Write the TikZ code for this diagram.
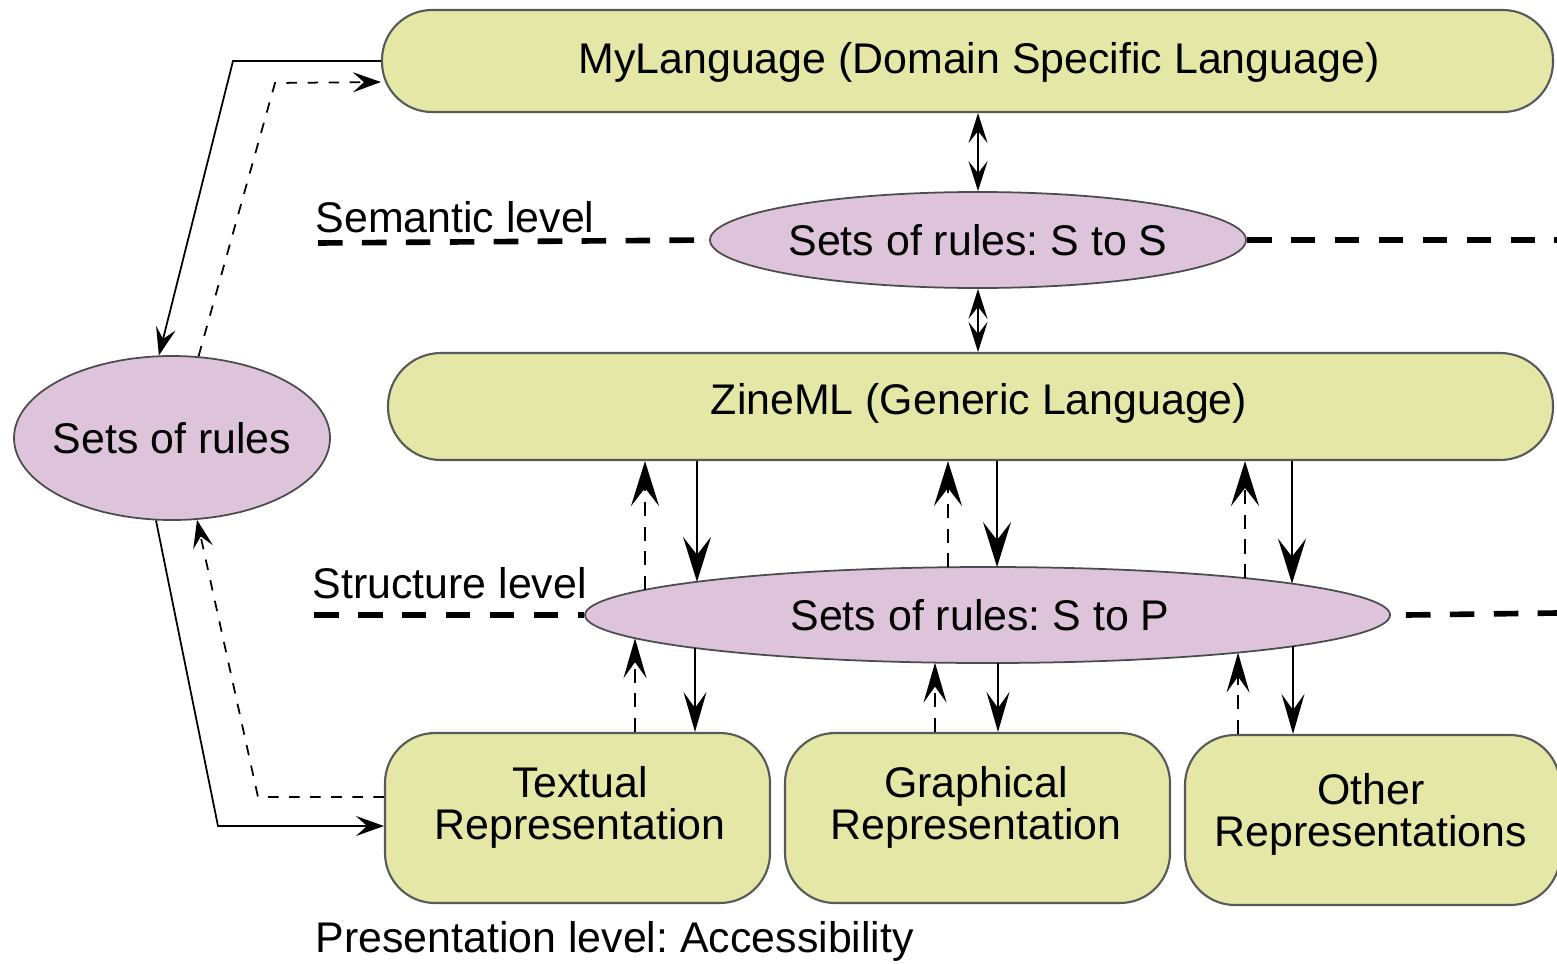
\documentclass[tikz,border=0pt]{standalone}
\usepackage{fontspec}
\setmainfont{Liberation Sans}
\frenchspacing
\usetikzlibrary{arrows.meta,shapes.geometric}
\definecolor{langfill}{RGB}{228,231,165}
\definecolor{rulefill}{RGB}{222,196,218}
\tikzset{
    langbox/.style={draw=black!65, line width=0.6pt, fill=langfill, rounded corners=0.5cm, inner sep=0pt},
    repbox/.style={langbox, minimum width=3.85cm, minimum height=1.7cm},
    ruleset/.style={ellipse, draw=black!70, line width=0.5pt, fill=rulefill, inner xsep=-0.15cm, inner ysep=0pt},
    levelline/.style={line width=1.6pt, dash pattern=on 7pt off 5.5pt},
    lbl/.style={anchor=base west, inner sep=0pt},
    bigdown/.style={-{Stealth[length=4.5mm,width=2.8mm,inset=1.8mm]}, line width=0.7pt},
    bigup/.style={bigdown, dash pattern=on 4pt off 3pt},
    smalldown/.style={-{Stealth[length=4mm,width=2.3mm,inset=1.6mm]}, line width=0.7pt},
    smallup/.style={smalldown, dash pattern=on 4pt off 3pt},
    twoway/.style={{Stealth[length=3mm,width=1.9mm,inset=1.2mm]}-{Stealth[length=3mm,width=1.9mm,inset=1.2mm]}, line width=0.5pt},
    sidearrow/.style={-{Stealth[length=2.8mm,width=2mm,inset=1.1mm]}, line width=0.5pt},
}

\begin{document}
\begin{tikzpicture}[font=\fontsize{12.2pt}{12pt}\selectfont]
        \useasboundingbox (0, 0) rectangle (15.57, 9.63);
        %level lines
        \coordinate (semstart) at (3.18, 7.2);
        \coordinate (semend) at (15.57, 7.23);
        \coordinate (strstart) at (3.14, 3.48);
        \coordinate (strend) at (15.57, 3.5);
        %draw language boxes
        \node[langbox, minimum width=11.71cm, minimum height=1.02cm] (myl) at (9.675, 9.02) {};
        \node (myltext) at (9.79, 9.01) {MyLanguage (Domain Specific Language)};
        \node[langbox, minimum width=11.65cm, minimum height=1.07cm, rounded corners=0.53cm] (zml) at (9.705, 5.565) {};
        \node (zmltext) at (9.79, 5.6) {ZineML (Generic Language)};
        %draw sets of rules
        \node[ruleset, minimum width=5.36cm, minimum height=0.96cm] (sts) at (9.78, 7.23) {Sets of rules: S to S};
        \node[ruleset, minimum width=8.05cm, minimum height=0.96cm] (stp) at (9.875, 3.48) {};
        \node (stptext) at (9.8, 3.48) {Sets of rules: S to P};
        \node[ruleset, minimum width=3.16cm, minimum height=1.64cm] (rules) at (1.72, 5.25) {Sets of rules};
        %draw representation boxes
        \node[repbox] (tr) at (5.775, 1.45) {};
        \node[align=center] (trtext) at (5.8, 1.56) {Textual\\Representation};
        \node[repbox] (gr) at (9.775, 1.45) {};
        \node[align=center] (grtext) at (9.76, 1.56) {Graphical\\Representation};
        \node[repbox, minimum width=3.75cm] (or) at (13.725, 1.43) {};
        \node[align=center] (ortext) at (13.71, 1.485) {Other\\Representations};
        %label levels
        \node[lbl] (semlbl) at (3.15, 7.31) {Semantic level};
        \node[lbl] (strlbl) at (3.12, 3.65) {Structure level};
        \node[lbl] (prelbl) at (3.15, 0.11) {Presentation level: Accessibility};
        \draw[levelline] (semstart) -- (sts.west);
        \draw[levelline] (sts.east) -- (semend);
        \draw[levelline] (strstart) -- (stp.west);
        \draw[levelline] ([xshift=0.15cm]stp.east) -- (strend);
        %draw arrows between levels
        \draw[twoway] (sts.north) -- (sts.north |- myl.south);
        \draw[twoway] (sts.south) -- (sts.south |- zml.north);
        \foreach \ux/\uy/\dx/\dy in {-3.425/0.252/-2.905/0.332, -0.395/0.478/0.095/0.48, 2.575/0.369/3.045/0.314} {
            \coordinate (upfoot) at ([shift={(\ux,\uy)}]stp.center);
            \coordinate (downtip) at ([shift={(\dx,\dy)}]stp.center);
            \draw[bigup] (upfoot) -- (upfoot |- zml.south);
            \draw[bigdown] (downtip |- zml.south) -- (downtip);
        }
        \foreach \ux/\uy/\dx/\dy/\rep in {-3.525/-0.232/-2.925/-0.33/tr, -0.525/-0.476/0.105/-0.48/gr, 2.505/-0.376/3.055/-0.3125/or} {
            \coordinate (uptip) at ([shift={(\ux,\uy)}]stp.center);
            \coordinate (downfoot) at ([shift={(\dx,\dy)}]stp.center);
            \draw[smallup] (uptip |- \rep.north) -- (uptip);
            \draw[smalldown] (downfoot) -- (downfoot |- \rep.north);
        }
        %draw arrows through the sets of rules
        \draw[sidearrow] (myl.west) -- (2.33, 9.02) -- (rules.99.7);
        \draw[sidearrow, dashed] (rules.72.2) -- (2.75, 8.8) -- ([yshift=-0.21cm]myl.west);
        \draw[sidearrow] (rules.259.6) -- (2.18, 1.37) -- ([yshift=-0.08cm]tr.west);
        \draw[sidearrow, dashed] ([yshift=0.21cm]tr.west) -- (2.58, 1.66) -- (rules.287.8);
    \end{tikzpicture}
\end{document}
